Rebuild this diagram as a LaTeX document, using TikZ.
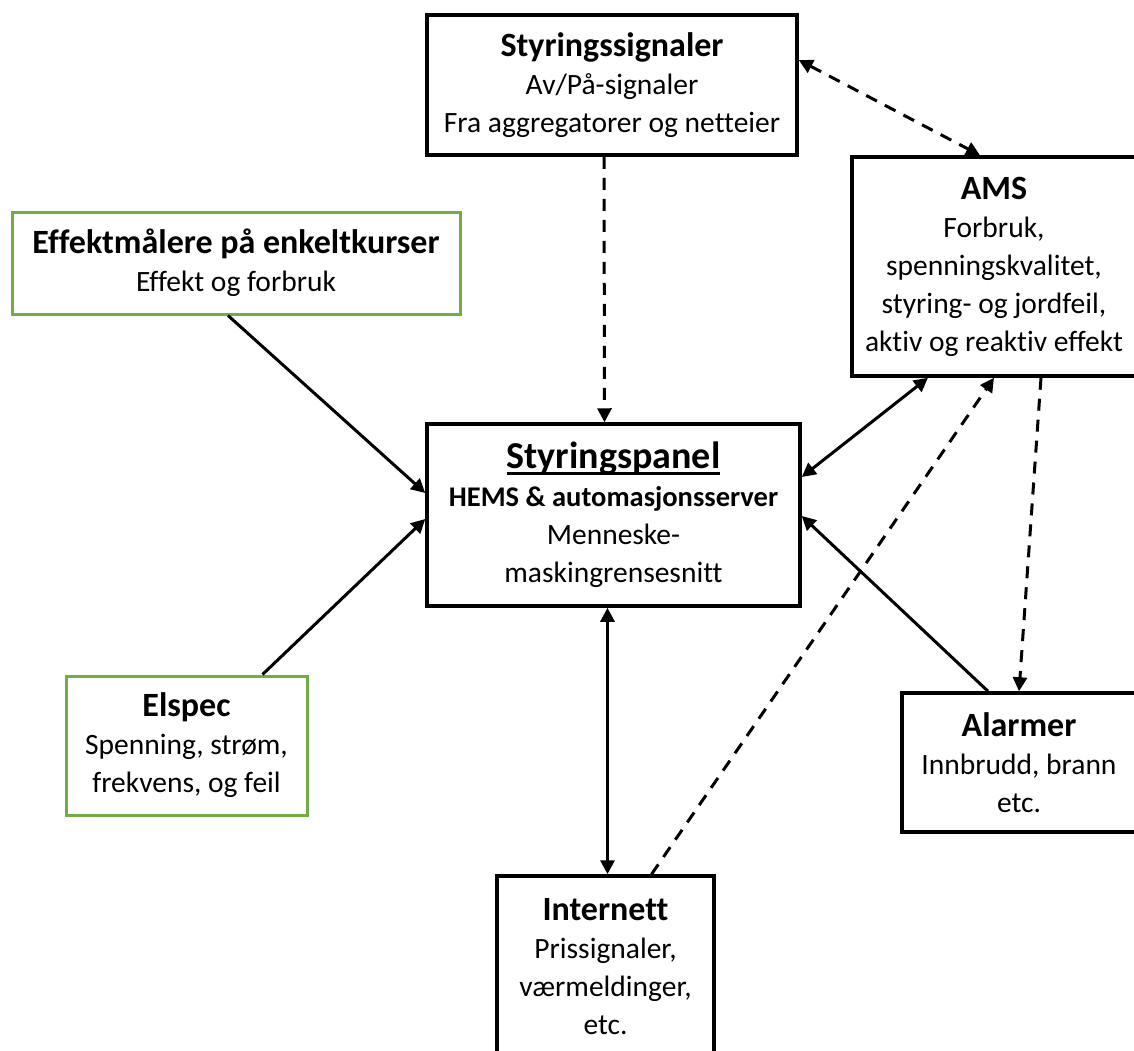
\documentclass[tikz,border=0pt]{standalone}
\usepackage{fontspec}
\setmainfont{Carlito}[Ligatures=NoCommon]
\usetikzlibrary{arrows.meta}
\definecolor{boxgreen}{RGB}{112,173,71}
\newcommand{\boxtitle}[1]{{\fontsize{34}{40}\selectfont\bfseries #1}}
\newcommand{\thickul}[1]{\setbox0\hbox{#1}\rlap{\rule[-6pt]{\wd0}{2.5pt}}\box0}
\tikzset{
  box/.style={draw=black, line width=3.5pt, rectangle, align=center, inner sep=0pt,
    font=\fontsize{29.5}{38}\selectfont},
  greenbox/.style={box, draw=boxgreen, line width=3pt},
  link/.style={line width=3pt, -{Triangle[length=14pt,width=14pt]}},
  bilink/.style={line width=3pt, {Triangle[length=14pt,width=14pt]}-{Triangle[length=14pt,width=14pt]}},
  dashlink/.style={link, dash pattern=on 12pt off 9pt},
  dashbilink/.style={bilink, dash pattern=on 12pt off 9pt},
}
\begin{document}
\begin{tikzpicture}[x=1pt, y=-1pt]
  \clip (0,0) rectangle (1134,1050);
  \fill[white] (0,0) rectangle (1134,1050);

  % boxes
  \node[box, minimum width=370pt, minimum height=140pt] (ss) at (612,85)
    {\boxtitle{Styringssignaler}\\Av/På-signaler\\Fra aggregatorer og netteier};
  \node[box, minimum width=284pt, minimum height=219pt] (ams) at (994,266.5)
    {\boxtitle{AMS}\\Forbruk,\\spenningskvalitet,\\styring- og jordfeil,\\aktiv og reaktiv effekt};
  \node[greenbox, minimum width=448pt, minimum height=102pt] (eff) at (236,263)
    {\boxtitle{Effektmålere på enkeltkurser}\\Effekt og forbruk};
  \node[box, minimum width=373pt, minimum height=182pt] (sp) at (613.5,515)
    {{\fontsize{38}{40}\selectfont\bfseries\thickul{Styringspanel}}\\
     {\fontsize{28.5}{38}\selectfont\bfseries HEMS \& automasjonsserver}\\Menneske-\\maskingrensesnitt};
  \node[greenbox, minimum width=241pt, minimum height=139pt] (el) at (186.5,745.5)
    {\boxtitle{Elspec}\\Spenning, strøm,\\frekvens, og feil};
  \node[box, minimum width=234pt, minimum height=139pt] (al) at (1019,762.5)
    {\boxtitle{Alarmer}\\Innbrudd, brann\\etc.};
  \node[box, minimum width=217pt, minimum height=182pt] (in) at (605.5,967)
    {\boxtitle{Internett}\\Prissignaler,\\værmeldinger,\\etc.};

  % connectors
  \draw[dashlink] ([xshift=-8pt]ss.south) -- ([xshift=-9pt]sp.north);
  \draw[dashbilink] ([yshift=25pt]ss.east) -- ([xshift=-14pt]ams.north);
  \draw[link] ([xshift=-8pt]eff.south) -- ([yshift=22pt]sp.west);
  \draw[link] ([xshift=76pt]el.north) -- ([yshift=-4pt]sp.west);
  \draw[bilink] ([xshift=-66pt]ams.south) -- ([yshift=38pt]sp.east);
  \draw[dashlink] ([xshift=46pt]in.north) -- (ams.south);
  \draw[dashlink] ([xshift=47pt]ams.south) -- (al.north);
  \draw[link] ([xshift=-31pt]al.north) -- ([yshift=-1pt]sp.east);
  \draw[bilink] ([xshift=-6pt]sp.south) -- ([xshift=2pt]in.north);
\end{tikzpicture}
\end{document}
